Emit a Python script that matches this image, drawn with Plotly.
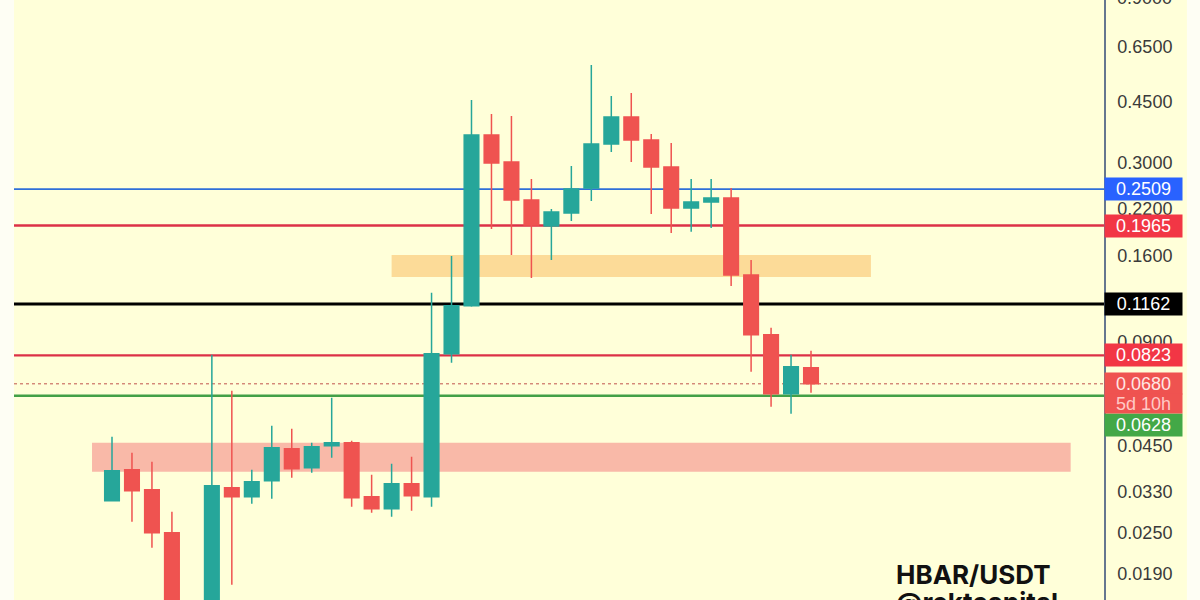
import math
import plotly.graph_objects as go

# daily candles, index 0 is the first visible candle
opens = [0.03105, 0.03822, 0.03343, 0.02506, 0.01224, 0.00936, 0.03388, 0.03190, 0.03551, 0.04399, 0.03873, 0.04489,
         0.04580, 0.03190, 0.02943, 0.03480, 0.03190, 0.08314, 0.1147, 0.3605, 0.3008, 0.2332, 0.1960, 0.2138,
         0.2528, 0.3394, 0.4066, 0.3486, 0.2909, 0.2210, 0.2301, 0.2364, 0.1411, 0.09442, 0.0636, 0.07568]
highs = [0.04768, 0.04283, 0.04033, 0.02885, 0.01399, 0.08258, 0.06489, 0.03822, 0.05133, 0.05030, 0.04580, 0.06191,
         0.04642, 0.03696, 0.03979, 0.04169, 0.1251, 0.1602, 0.4557, 0.4149, 0.4094, 0.2684, 0.2195, 0.2929,
         0.5761, 0.4681, 0.4776, 0.3629, 0.3417, 0.2684, 0.2684, 0.2528, 0.1560, 0.09894, 0.08258, 0.08483]
lows = [0.03105, 0.02698, 0.02266, 0.01145, 0.00819, 0.00875, 0.01769, 0.03043, 0.03147, 0.03622, 0.03746, 0.04141,
        0.02983, 0.02866, 0.02790, 0.02904, 0.02983, 0.07827, 0.1139, 0.1920, 0.1613, 0.1383, 0.1560, 0.2026,
        0.2316, 0.3217, 0.3008, 0.2123, 0.1870, 0.1883, 0.1933, 0.1311, 0.0737, 0.05829, 0.05562, 0.06403]
closes = [0.03796, 0.03321, 0.02506, 0.01224, 0.00875, 0.03434, 0.03190, 0.03527, 0.04429, 0.03848, 0.04459, 0.04580,
          0.03168, 0.02943, 0.03480, 0.03211, 0.08314, 0.1147, 0.3605, 0.2988, 0.2332, 0.1973, 0.2152, 0.2511,
          0.3394, 0.4066, 0.3486, 0.2909, 0.2210, 0.2301, 0.2364, 0.1411, 0.09442, 0.0636, 0.07619, 0.0680]
candle_index = list(range(len(opens)))

tick_vals = [0.65, 0.45, 0.30, 0.22, 0.16, 0.09, 0.045, 0.033, 0.025, 0.019]
tick_text = ['0.6500', '0.4500', '0.3000', '0.2200', '0.1600', '0.0900', '0.0450', '0.0330', '0.0250', '0.0190']

# horizontal levels
level_prices = [0.2509, 0.1965, 0.1162, 0.0823, 0.0628]
level_colors = ['#2f6fd8', '#dc3047', '#000000', '#dc3047', '#43a047']
level_widths = [1.7, 2.3, 3, 2.3, 2.5]
level_labels = ['0.2509', '0.1965', '0.1162', '0.0823', '0.0628']
label_colors = ['#2962ff', '#f23645', '#000000', '#f23645', '#43a847']
label_shifts = [0, 0, 0, 0, -29]
last_price = 0.0680

# zones: x in candle index, y in price
orange_zone = [14, 38, 0.1392, 0.1613]
red_zone = [-1, 48, 0.0377, 0.0458]

BG = '#ffffd9'
FONT = 'Liberation Sans'
GREEN = '#26a69a'
RED = '#ef5350'

fig = go.Figure(go.Candlestick(
    x=candle_index, open=opens, high=highs, low=lows, close=closes,
    increasing=dict(line=dict(color=GREEN, width=1.5), fillcolor=GREEN),
    decreasing=dict(line=dict(color=RED, width=1.5), fillcolor=RED),
    whiskerwidth=0,
    showlegend=False,
))

shapes = [
    # axis strip on the right is chart coloured too
    dict(type='rect', xref='paper', yref='paper', x0=1, x1=1.0761, y0=0, y1=1,
         fillcolor=BG, line_width=0, layer='below'),
]
for zone, col in [(orange_zone, '#fcdb98'), (red_zone, '#f9b9a8')]:
    shapes.append(dict(type='rect', xref='x', yref='y', x0=zone[0], x1=zone[1], y0=zone[2], y1=zone[3],
                       fillcolor=col, line_width=0, layer='below'))
for price, col, w in zip(level_prices, level_colors, level_widths):
    shapes.append(dict(type='line', xref='paper', yref='y', x0=0, x1=1, y0=price, y1=price,
                       line=dict(color=col, width=w), layer='below'))
shapes.append(dict(type='line', xref='paper', yref='y', x0=0, x1=1, y0=last_price, y1=last_price,
                   line=dict(color='#c0544c', width=1, dash='dot'), layer='below'))

annotations = []
for price, text, col, shift in zip(level_prices, level_labels, label_colors, label_shifts):
    annotations.append(dict(xref='paper', yref='y', x=1, y=math.log10(price), yshift=shift, text=text,
                            xanchor='left', yanchor='middle', showarrow=False, align='center',
                            width=77, height=22, borderpad=0, bgcolor=col,
                            font=dict(family=FONT, size=18, color='white')))
# last price label, two stacked boxes so the line spacing can be set
annotations.append(dict(xref='paper', yref='y', x=1, y=math.log10(last_price),
                        text='0.0680', xanchor='left', yanchor='middle', showarrow=False,
                        align='center', width=77, height=21, borderpad=0, bgcolor='#ef5350',
                        font=dict(family=FONT, size=18, color='#ffe6e4')))
annotations.append(dict(xref='paper', yref='y', x=1, y=math.log10(last_price), yshift=-20,
                        text='5d 10h', xanchor='left', yanchor='middle', showarrow=False,
                        align='center', width=77, height=19, borderpad=0, bgcolor='#ef5350',
                        font=dict(family=FONT, size=18, color='#ffc9c5')))
annotations.append(dict(xref='paper', yref='paper', x=1, xshift=11, y=1, yshift=2, text='0.9000',
                        xanchor='left', yanchor='middle', showarrow=False,
                        font=dict(family=FONT, size=18, color='#3a3a3a')))
annotations.append(dict(xref='paper', yref='paper', x=0.8075, y=0.0417, text='<b>HBAR/USDT</b>',
                        xanchor='left', yanchor='middle', showarrow=False,
                        font=dict(family='Inter', size=26, color='#111111')))
annotations.append(dict(xref='paper', yref='paper', x=0.8075, y=-0.0035, text='<b>@rektcapital</b>',
                        xanchor='left', yanchor='middle', showarrow=False,
                        font=dict(family='Inter', size=26, color='#111111')))

fig.update_layout(
    width=1200, height=600,
    margin=dict(l=14, r=96, t=0, b=0),
    paper_bgcolor='#fefef4',
    plot_bgcolor=BG,
    boxgap=0.27,
    boxgroupgap=0,
    showlegend=False,
    shapes=shapes,
    annotations=annotations,
    xaxis=dict(range=[-4.907, 49.67], showgrid=False, zeroline=False, showticklabels=False,
               rangeslider_visible=False, ticks=''),
    yaxis=dict(type='log', range=[-1.7968, -0.0502], side='right', showgrid=False, zeroline=False,
               tickmode='array', tickvals=tick_vals, ticktext=tick_text, ticks='',
               ticklabelstandoff=8, showline=True, linecolor='#66778f', linewidth=1.5,
               tickfont=dict(family=FONT, size=18, color='#3a3a3a')),
)

# page has a default 8px body margin, drop it so the figure sits at 0,0
fig.write_html("out.html", config=dict(displayModeBar=False),
               post_script="document.body.style.margin='0';document.body.style.overflow='hidden';")
